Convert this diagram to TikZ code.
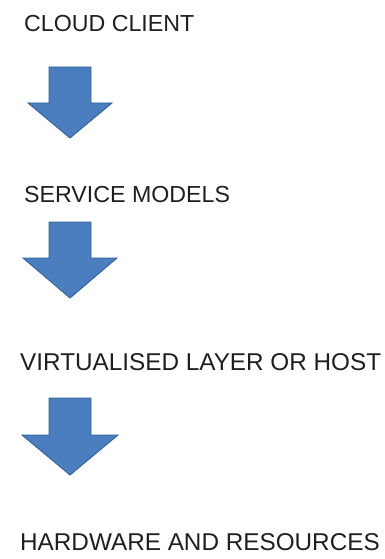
\documentclass[tikz,border=0pt]{standalone}
\usepackage{fontspec}
\setmainfont{Liberation Sans}
\definecolor{arrowfill}{HTML}{4A7EBF}
\definecolor{arrowedge}{HTML}{36609A}
\definecolor{labelgray}{HTML}{1F1F1F}
\begin{document}
\begin{tikzpicture}[x=1pt,y=-1pt,
  layerlabel/.style={anchor=base west,inner sep=0pt,font=\fontsize{23.2}{28}\selectfont,text=labelgray},
  widelabel/.style={layerlabel,font=\fontsize{24.3}{29}\selectfont},
  pics/blockarrow/.style n args={3}{code={
    % #1 head base offset, #2 tip offset, #3 head half width
    \filldraw[fill=arrowfill,draw=arrowedge,line width=0.9pt,line join=miter]
      (-21,0) -- (21,0) -- (21,#1) -- (#3,#1) -- (0,#2) -- (-#3,#1) -- (-21,#1) -- cycle;
  }}]
\useasboundingbox (0,0) rectangle (385,559);
\node[layerlabel] (client) at (24,32) {CLOUD CLIENT};
\node[layerlabel] (service) at (24,202) {SERVICE MODELS};
\node[widelabel] (virtual) at (20,370) {VIRTUALISED LAYER OR HOST};
\node[widelabel] (hardware) at (20,550) {HARDWARE AND RESOURCES};
\pic at (70,67) {blockarrow={36}{71}{42}};
\pic at (70,222) {blockarrow={36}{76}{47}};
\pic at (70,398) {blockarrow={37}{77}{48}};
\end{tikzpicture}
\end{document}
